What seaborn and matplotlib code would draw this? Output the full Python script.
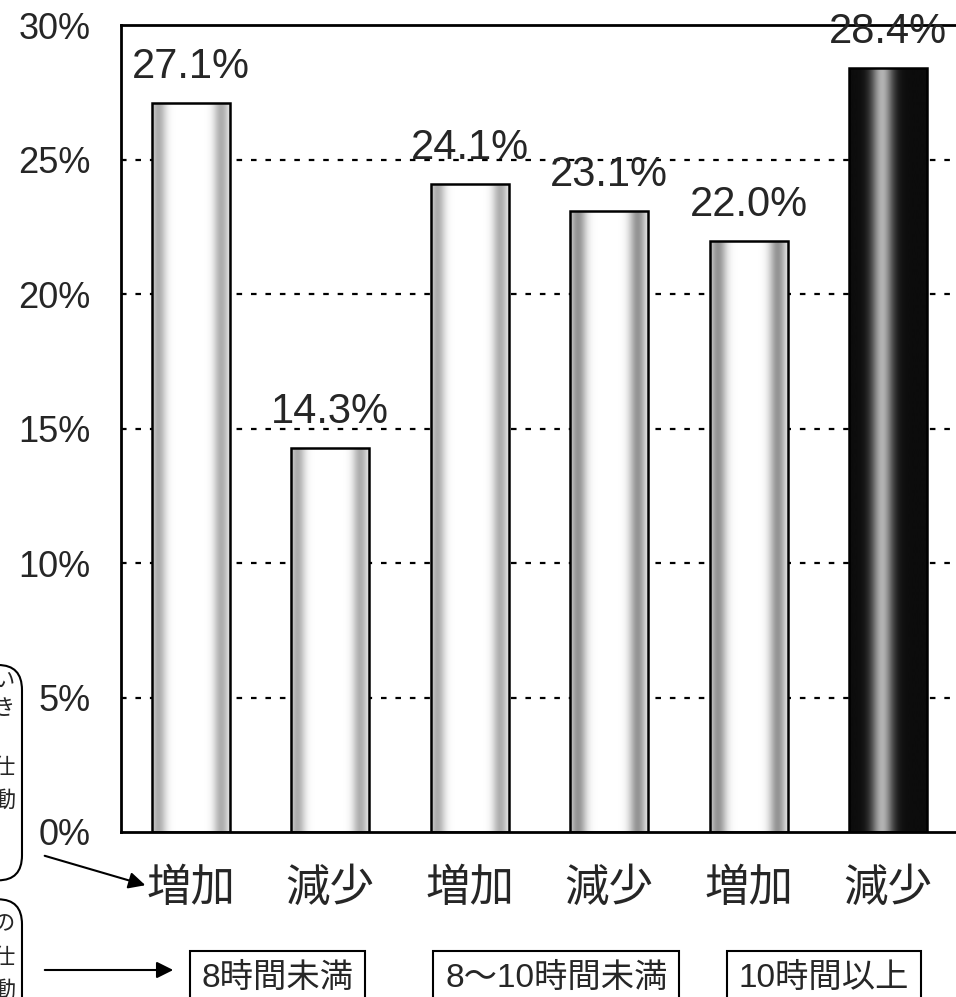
import numpy as np
import pandas as pd
import matplotlib
matplotlib.use("Agg")
import matplotlib.pyplot as plt
import matplotlib.transforms as mtransforms
from matplotlib.patches import FancyBboxPatch, FancyArrowPatch
import seaborn as sns

changes = ['増加', '減少', '増加', '減少', '増加', '減少']
groups = ['8時間未満', '8～10時間未満', '10時間以上']
values = [27.1, 14.3, 24.1, 23.1, 22.0, 28.4]
yticks = [0, 5, 10, 15, 20, 25, 30]

sns.set_style("white")
plt.rcParams['font.family'] = ['Liberation Sans', 'Noto Sans CJK JP', 'DejaVu Sans']

keys = [f"{groups[i // 2]}|{c}" for i, c in enumerate(changes)]
df = pd.DataFrame({'key': keys, 'value': values})

fig = plt.figure(figsize=(9.56, 9.97), dpi=100)
ax = fig.add_axes([0.1266, 0.1655, 0.8755, 0.809])

sns.barplot(data=df, x='key', y='value', order=keys, width=0.56,
            color='white', edgecolor='black', linewidth=1.8, saturation=1, ax=ax)

# shaded fill inside each bar (light bars, last bar dark)
u = np.linspace(0, 1, 256)
light = 1 - 0.32 * np.exp(-((u - 0.08) / 0.1) ** 2) - 0.32 * np.exp(-((u - 0.88) / 0.1) ** 2)
mid = 1 - 0.42 * np.exp(-((u - 0.1) / 0.11) ** 2) - 0.42 * np.exp(-((u - 0.86) / 0.11) ** 2)
dark = 0.05 + 0.65 * np.exp(-((u - 0.42) / 0.14) ** 2)
profiles = [light, light, light, mid, mid, dark]
for patch, prof in zip(ax.patches, profiles):
    x0, w, h = patch.get_x(), patch.get_width(), patch.get_height()
    patch.set_facecolor('none')
    patch.set_zorder(3)
    im = ax.imshow(prof[np.newaxis, :], cmap='gray', vmin=0, vmax=1,
                   extent=[x0, x0 + w, 0, h], aspect='auto', zorder=2,
                   interpolation='bilinear')
    im.set_clip_path(patch)

ax.set_xlim(-0.5, 5.5)
ax.set_ylim(0, 30)

# value labels
for patch, v in zip(ax.patches, values):
    ax.annotate(f"{v:.1f}%", (patch.get_x() + patch.get_width() / 2, v),
                xytext=(0, 18), textcoords='offset points', ha='center',
                va='baseline', fontsize=30, zorder=5)

# grid
for y in yticks[1:-1]:
    ax.axhline(y, color='black', lw=1.6, ls=(0, (2.5, 4)), zorder=1)

for side in ['left', 'bottom', 'top']:
    ax.spines[side].set_linewidth(2)
    ax.spines[side].set_color('black')
ax.spines['right'].set_visible(False)

ax.set_yticks(yticks)
ax.set_yticklabels([f"{t}%" for t in yticks], fontsize=26)
ax.tick_params(axis='y', direction='in', length=9, width=2, pad=22)
ax.set_xticks(range(6))
ax.set_xticklabels(changes, fontsize=32, family=['Noto Sans CJK JP'])
ax.tick_params(axis='x', length=0, pad=24)
ax.set_xticks([0.5, 1.5, 2.5, 3.5, 4.5], minor=True)
ax.tick_params(axis='x', which='minor', direction='in', length=13, width=2)
ax.set_xlabel('')
ax.set_ylabel('')

# group boxes under the category labels
trans = mtransforms.blended_transform_factory(ax.transData, fig.transFigure)
for x, g in zip([0.62, 2.62, 4.54], groups):
    ax.text(x, 0.019, g, transform=trans, ha='center', va='center', fontsize=24,
            bbox=dict(boxstyle='square,pad=0.35', fc='white', ec='black', lw=1.5),
            clip_on=False)

# rounded note boxes on the left edge (cut off)
for y0, y1 in [(0.117, 0.333), (-0.05, 0.098)]:
    fig.add_artist(FancyBboxPatch((-0.1, y0), 0.123, y1 - y0,
                                  boxstyle='round,pad=0,rounding_size=0.025',
                                  transform=fig.transFigure, fc='none', ec='black', lw=1.5))
for ch, y in [('い', 680), ('き', 708), ('仕', 768), ('動', 800),
              ('の', 924), ('仕', 957), ('動', 990)]:
    fig.text(0.004, 1 - y / 997, ch, ha='center', va='center', fontsize=16,
             family=['Noto Sans CJK JP'])

# arrows
fig.add_artist(FancyArrowPatch((42 / 956, 1 - 855 / 997), (148 / 956, 1 - 886 / 997),
                               transform=fig.transFigure, arrowstyle='-|>',
                               mutation_scale=25, lw=1.5, color='black'))
fig.add_artist(FancyArrowPatch((42 / 956, 1 - 970 / 997), (176 / 956, 1 - 970 / 997),
                               transform=fig.transFigure, arrowstyle='-|>',
                               mutation_scale=25, lw=1.5, color='black'))

fig.savefig('out.png', dpi=100)
